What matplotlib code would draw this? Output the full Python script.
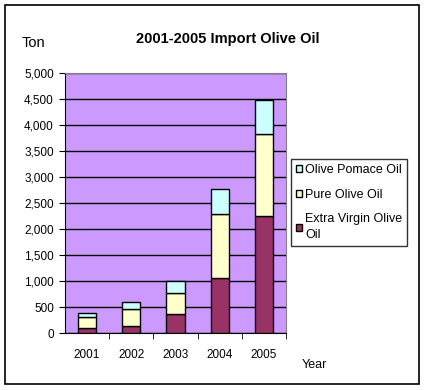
import matplotlib
matplotlib.use("Agg")
import matplotlib.pyplot as plt
from matplotlib.patches import Rectangle
import numpy as np

plt.rcParams["font.family"] = ["Liberation Sans", "DejaVu Sans"]

years = ["2001", "2002", "2003", "2004", "2005"]
extra_virgin = [96, 141, 365, 1058, 2250]
pure = [218, 321, 404, 1230, 1577]
pomace = [71, 134, 231, 481, 663]

fig = plt.figure(figsize=(4.27, 3.90), dpi=100)
fig.patches.append(Rectangle((5 / 427, 1 - 384 / 390), 414 / 427, 379 / 390,
                             transform=fig.transFigure, fill=False,
                             edgecolor="black", linewidth=1.2))

ax = fig.add_axes([65 / 427, 1 - 333.3 / 390, 221 / 427, 260 / 390])
ax.set_facecolor("#CC99FF")

x = np.arange(len(years))
w = 0.41
b1 = ax.bar(x, extra_virgin, w, color="#993366", edgecolor="black", linewidth=1, zorder=3)
bottom2 = np.array(extra_virgin)
b2 = ax.bar(x, pure, w, bottom=bottom2, color="#FFFFCC", edgecolor="black", linewidth=1, zorder=3)
bottom3 = bottom2 + np.array(pure)
b3 = ax.bar(x, pomace, w, bottom=bottom3, color="#CCFFFF", edgecolor="black", linewidth=1, zorder=3)

ax.set_xlim(-0.5, len(years) - 0.5)
ax.set_ylim(0, 5000)
ax.set_yticks(np.arange(0, 5001, 500))
ax.set_yticklabels([f"{v:,}" for v in range(0, 5001, 500)], fontsize=8.5)
ax.yaxis.grid(True, color="black", linewidth=1, zorder=1)
ax.set_axisbelow(True)

ax.set_xticks(x)
ax.set_xticklabels(years, fontsize=8.5)
ax.tick_params(axis="x", length=0, pad=11)
ax.set_xticks(np.arange(0.5, len(years) - 0.5 + 0.01, 1.0), minor=True)
ax.tick_params(axis="x", which="minor", length=4, direction="out", color="black")
ax.tick_params(axis="y", length=4, direction="out", pad=4)

for s in ["top", "right"]:
    ax.spines[s].set_color("#808080")
for s in ["left", "bottom"]:
    ax.spines[s].set_color("black")

fig.text(228 / 427, 1 - 39 / 390, "2001-2005 Import Olive Oil", fontsize=10.5,
         fontweight="bold", ha="center", va="center")
fig.text(22 / 427, 1 - 43 / 390, "Ton", fontsize=10.5, ha="left", va="center")
fig.text(302 / 427, 1 - 365 / 390, "Year", fontsize=9, ha="left", va="center")

leg = fig.legend([b3, b2, b1],
                 ["Olive Pomace Oil", "Pure Olive Oil", "Extra Virgin Olive\nOil"],
                 loc="upper left", bbox_to_anchor=(291 / 427, 1 - 159 / 390),
                 fontsize=9, frameon=True, fancybox=False, edgecolor="black",
                 handlelength=0.5, handleheight=0.5, handletextpad=0.25,
                 labelspacing=1.0, borderpad=0.4, borderaxespad=0)
leg.get_frame().set_linewidth(1)
for t in leg.get_texts():
    t.set_linespacing(1.45)

fig.savefig("out.png", dpi=100)
